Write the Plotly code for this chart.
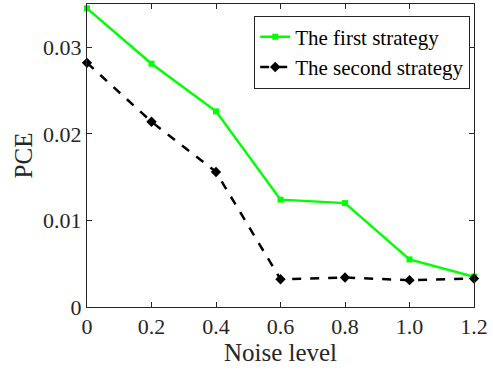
import plotly.graph_objects as go

noise = [0, 0.2, 0.4, 0.6, 0.8, 1.0, 1.2]
first = [0.0345, 0.0281, 0.0226, 0.0124, 0.0120, 0.0055, 0.0035]
second = [0.0282, 0.0214, 0.0156, 0.0032, 0.0034, 0.0031, 0.0033]
xticks = ["0", "0.2", "0.4", "0.6", "0.8", "1.0", "1.2"]
yticks = [0, 0.01, 0.02, 0.03]
yticklabels = ["0", "0.01", "0.02", "0.03"]

font = "Liberation Serif"

fig = go.Figure()
fig.add_trace(go.Scatter(x=noise, y=first, mode="lines+markers", name="The first strategy",
                         line=dict(color="#00ff00", width=2.5),
                         marker=dict(symbol="square", size=6, color="#00ff00"),
                         cliponaxis=False))
fig.add_trace(go.Scatter(x=noise, y=second, mode="lines+markers", name="The second strategy",
                         line=dict(color="black", width=2.5, dash="dash"),
                         marker=dict(symbol="diamond", size=8, color="black"),
                         cliponaxis=False))

axis_common = dict(showline=True, linecolor="#262626", linewidth=1, mirror="allticks",
                   ticks="inside", ticklen=5, tickcolor="#262626", showgrid=False,
                   zeroline=False, tickfont=dict(family=font, size=22, color="#262626"))

fig.update_layout(
    width=493, height=373,
    margin=dict(l=87, r=19, t=4, b=66),
    paper_bgcolor="white", plot_bgcolor="white",
    font=dict(family=font, color="#262626"),
    xaxis=dict(range=[0, 1.2], tickvals=noise, ticktext=xticks,
               title=dict(text="Noise level", font=dict(family=font, size=25), standoff=4),
               **axis_common),
    yaxis=dict(range=[0, 0.035], tickvals=yticks, ticktext=yticklabels,
               title=dict(text="PCE", font=dict(family=font, size=25), standoff=3),
               **axis_common),
    legend=dict(x=0.432, y=0.962, xanchor="left", yanchor="top",
                bordercolor="#262626", borderwidth=1, bgcolor="white",
                font=dict(family=font, size=21, color="black"),
                tracegroupgap=0, itemwidth=30),
    showlegend=True,
)

fig.write_html("out.html")
